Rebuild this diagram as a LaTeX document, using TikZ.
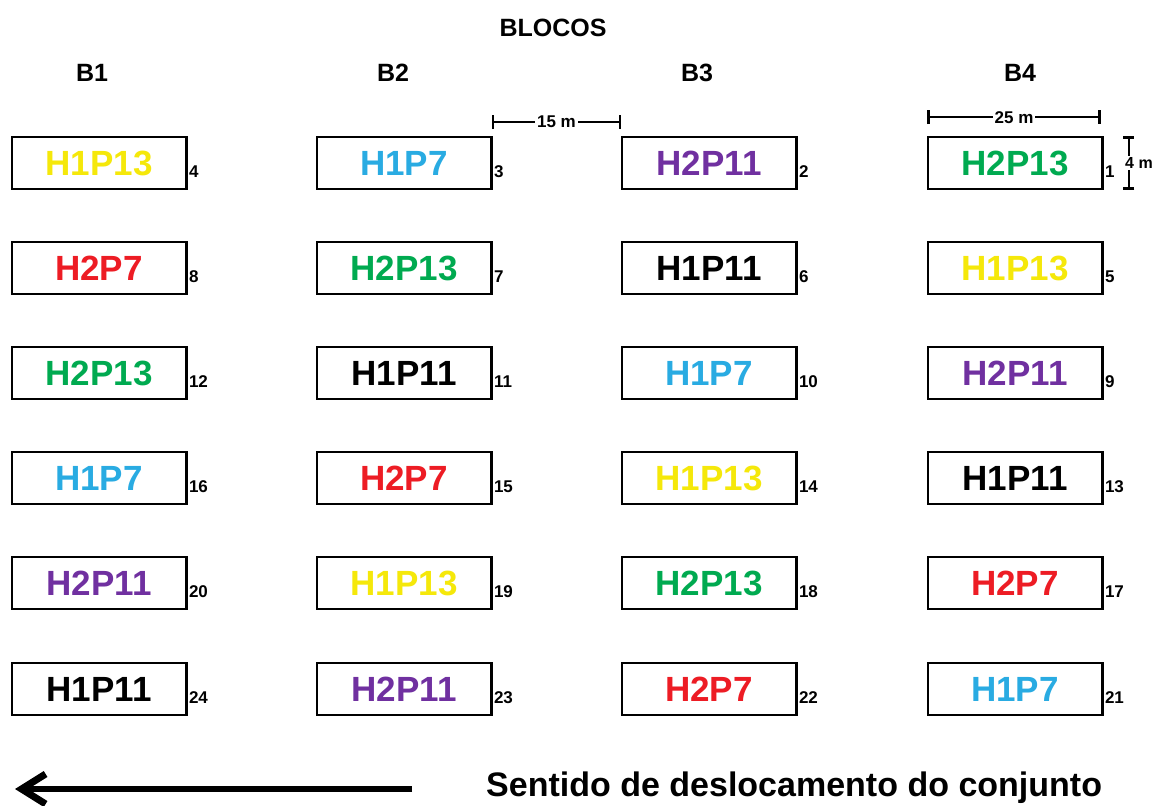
\documentclass[tikz,border=0pt]{standalone}
\usepackage{fontspec}
\setmainfont{Liberation Sans}
\usetikzlibrary{arrows.meta}
\definecolor{cyel}{RGB}{245,232,10}
\definecolor{cblu}{RGB}{41,171,226}
\definecolor{cpur}{RGB}{112,48,160}
\definecolor{cgrn}{RGB}{0,170,80}
\definecolor{cred}{RGB}{237,28,36}
\tikzset{
  plot/.style={draw=black, line width=1.6pt, minimum width=174pt, minimum height=52pt, inner sep=0pt,
    font=\fontsize{35}{38}\selectfont\bfseries},
  numlab/.style={anchor=west, inner sep=0pt, font=\fontsize{17}{18}\selectfont\bfseries},
  head/.style={inner sep=0pt, font=\fontsize{25}{28}\selectfont\bfseries},
  dimline/.style={line width=2.6pt, {Bar[width=14pt]}-{Bar[width=14pt]}},
  dimlab/.style={fill=white, inner sep=2pt, font=\fontsize{17}{18}\selectfont\bfseries},
}
\begin{document}
\begin{tikzpicture}[x=1pt,y=-1pt]
\useasboundingbox[fill=white] (0,0) rectangle (1155,805);
% headers
\node[head] (blocos) at (553,28) {BLOCOS};
\node[head] (h1) at (92,73) {B1};
\node[head] (h2) at (393,73) {B2};
\node[head] (h3) at (697,73) {B3};
\node[head] (h4) at (1020,73) {B4};
% plots
\foreach \x/\y/\t/\col/\n in {
  99/163/H1P13/cyel/4, 404/163/H1P7/cblu/3, 709/163/H2P11/cpur/2, 1015/163/H2P13/cgrn/1,
  99/268/H2P7/cred/8, 404/268/H2P13/cgrn/7, 709/268/H1P11/black/6, 1015/268/H1P13/cyel/5,
  99/373/H2P13/cgrn/12, 404/373/H1P11/black/11, 709/373/H1P7/cblu/10, 1015/373/H2P11/cpur/9,
  99/478/H1P7/cblu/16, 404/478/H2P7/cred/15, 709/478/H1P13/cyel/14, 1015/478/H1P11/black/13,
  99/583/H2P11/cpur/20, 404/583/H1P13/cyel/19, 709/583/H2P13/cgrn/18, 1015/583/H2P7/cred/17,
  99/689/H1P11/black/24, 404/689/H2P11/cpur/23, 709/689/H2P7/cred/22, 1015/689/H1P7/cblu/21}
{
  \node[plot, text=\col] (b\n) at (\x,\y) {\t};
  \draw[line width=2.4pt] (b\n.north east) -- (b\n.south east);
  \node[numlab] (n\n) at ([xshift=2pt,yshift=18pt]b\n.south east) {\n};
}
% dimensions
\coordinate (d15a) at ([yshift=14pt]b3.north east);
\coordinate (d15b) at ([yshift=14pt]b2.north west);
\draw[dimline] (d15a) -- (d15b) node[midway, dimlab] (l15) {15 m};
\coordinate (d25a) at ([yshift=19pt]b1.north west);
\coordinate (d25b) at ([xshift=-2pt,yshift=19pt]b1.north east);
\draw[dimline] (d25a) -- (d25b) node[midway, dimlab] (l25) {25 m};
\coordinate (d4a) at ([xshift=26pt]b1.north east);
\coordinate (d4b) at ([xshift=26pt]b1.south east);
\draw[dimline, {Bar[width=11pt]}-{Bar[width=11pt]}] (d4a) -- (d4b);
\node[dimlab, fill=white, inner sep=1pt, font=\fontsize{16}{17}\selectfont\bfseries] (l4) at (1139,163) {4 m};
% direction arrow
\coordinate (arrS) at (412,789);
\coordinate (arrE) at (15,789);
\draw[line width=6pt, -{Straight Barb[length=24pt,width=30pt,line width=7pt]}] (arrS) -- (arrE);
\node[anchor=west, inner sep=0pt, font=\fontsize{34}{36}\selectfont\bfseries] (sent) at (486,788) {Sentido de deslocamento do conjunto};
\end{tikzpicture}
\end{document}
